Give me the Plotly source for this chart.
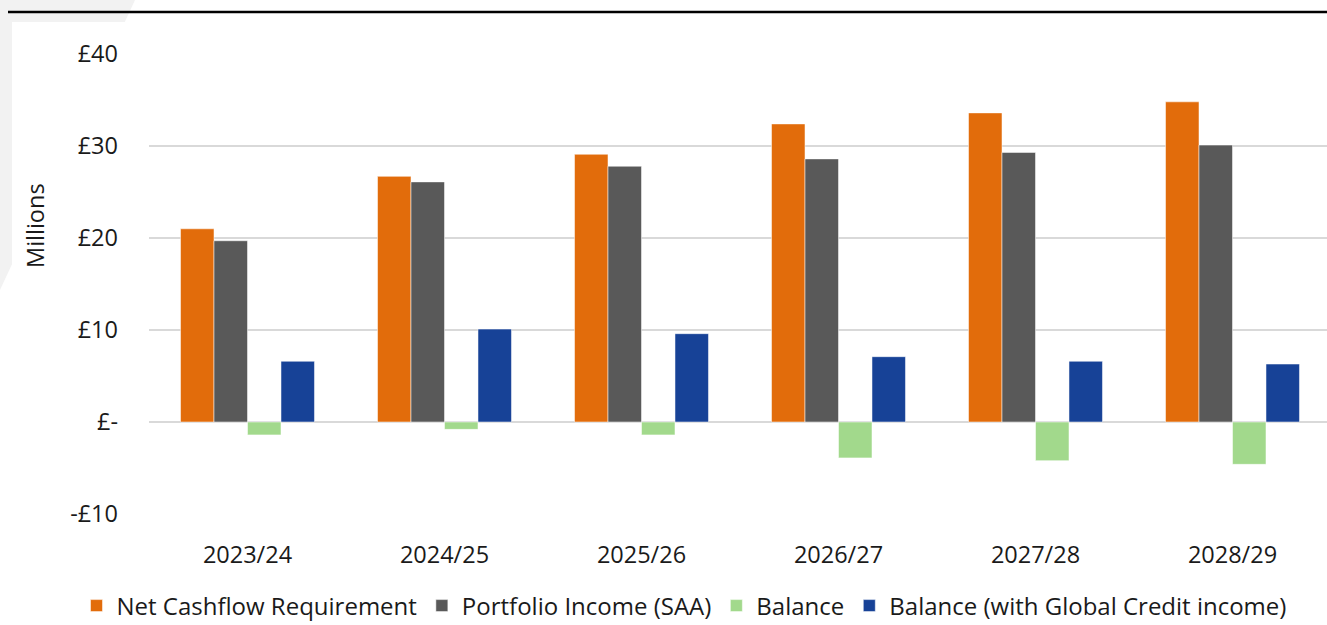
import plotly.graph_objects as go

categories = ["2023/24", "2024/25", "2025/26", "2026/27", "2027/28", "2028/29"]
net_cashflow = [21.0, 26.7, 29.1, 32.4, 33.6, 34.8]
portfolio_income = [19.7, 26.1, 27.8, 28.6, 29.3, 30.1]
balance = [-1.4, -0.8, -1.4, -3.9, -4.2, -4.6]
balance_gc = [6.6, 10.1, 9.6, 7.1, 6.6, 6.3]

series_names = ["Net Cashflow Requirement", "Portfolio Income (SAA)", "Balance",
                "Balance (with Global Credit income)"]
series_values = [net_cashflow, portfolio_income, balance, balance_gc]
series_colors = ["#E26C0B", "#595959", "#A2D98C", "#174297"]

ytick_vals = [-10, 0, 10, 20, 30, 40]
ytick_text = ["-£10", "£-", "£10", "£20", "£30", "£40"]

W, H = 1327, 625
PL, PR, PT, PB = 149, 1327, 54, 514   # plot area in pixels


def px(x):
    return x / W


def py(y):
    return 1 - y / H


fig = go.Figure()
for name, vals, col in zip(series_names, series_values, series_colors):
    fig.add_trace(go.Bar(x=categories, y=vals, name=name, marker_color=col,
                         marker_line=dict(width=1, color="rgba(255,255,255,0.5)")))

font = "Open Sans"
txtcol = "#1a1a1a"
fig.update_layout(
    width=W, height=H,
    margin=dict(l=0, r=0, t=0, b=0, autoexpand=False),
    paper_bgcolor="white", plot_bgcolor="white",
    barmode="group", bargap=0.32, bargroupgap=0,
    font=dict(family=font, size=23.5, color=txtcol),
    legend=dict(orientation="h", x=px(684), xanchor="center", y=py(606), yanchor="middle",
                font=dict(size=24, color=txtcol), itemwidth=30, tracegroupgap=0,
                traceorder="normal"),
    showlegend=True,
)
fig.update_xaxes(domain=[px(PL), px(PR)], range=[-0.5, -0.5 + (PR - PL) / 197.0],
                 showgrid=False, showline=False, automargin=False,
                 ticks="", ticklabelstandoff=24, tickfont=dict(size=23.5, color=txtcol))
fig.update_yaxes(domain=[py(PB), py(PT)], range=[-10, 40], tickvals=ytick_vals,
                 ticktext=ytick_text, automargin=False,
                 showgrid=True, gridcolor="#D9D9D9", gridwidth=1.5, zeroline=False,
                 showline=False, ticks="", ticklabelstandoff=30,
                 tickfont=dict(size=23.5, color=txtcol))

shapes = [
    dict(type="path", xref="paper", yref="paper",
         path=f"M {px(0)} {py(0)} L {px(135)} {py(0)} L {px(0)} {py(290)} Z",
         fillcolor="#F2F2F2", line=dict(width=0), layer="below"),
    dict(type="rect", xref="paper", yref="paper",
         x0=px(12), x1=px(1327), y0=py(625), y1=py(22),
         fillcolor="white", line=dict(width=0), layer="below"),
    dict(type="line", xref="paper", yref="paper",
         x0=px(8), x1=px(1327), y0=py(12), y1=py(12),
         line=dict(color="black", width=2.5)),
]
fig.update_layout(shapes=shapes)
fig.add_annotation(text="Millions", xref="paper", yref="paper", x=px(35), y=py(226),
                   showarrow=False, textangle=-90, font=dict(size=23.5, color=txtcol),
                   xanchor="center", yanchor="middle")

fig.write_html("out.html", config={"displayModeBar": False},
               post_script="document.body.style.margin='0';")
